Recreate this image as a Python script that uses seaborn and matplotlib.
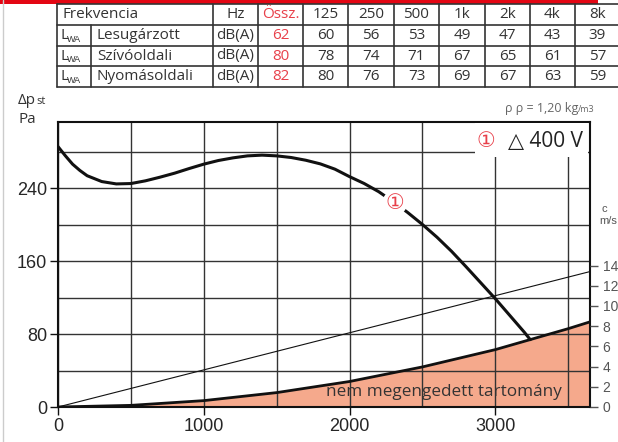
import matplotlib
matplotlib.use("Agg")
import matplotlib.pyplot as plt
import seaborn as sns
from matplotlib.patches import Rectangle

# zajadatok (táblázat)
frekvenciak = ["125", "250", "500", "1k", "2k", "4k", "8k"]
sorok = ["Lesugárzott", "Szívóoldali", "Nyomásoldali"]
ossz = [62, 80, 82]
lesugarzott = [60, 56, 53, 49, 47, 43, 39]
szivooldali = [78, 74, 71, 67, 65, 61, 57]
nyomasoldali = [80, 76, 73, 69, 67, 63, 59]

# ventilátor jelleggörbe (m3/h, Pa)
q_fan = [0, 50, 100, 150, 200, 300, 400, 500, 600, 700, 800, 900, 1000,
         1100, 1200, 1300, 1400, 1500, 1600, 1700, 1800, 1900, 2000, 2100,
         2200, 2300, 2400, 2500, 2600, 2700, 2800, 2900, 3000, 3100, 3200, 3240]
p_fan = [286, 276, 266.7, 259.8, 254, 247.6, 245, 245.4, 248.4, 252.4, 256.8,
         261.9, 266.7, 270.7, 273.6, 275.8, 276.6, 275.8, 274, 271, 267, 261.2,
         253, 245.5, 236.5, 225.5, 213.5, 200.5, 186.5, 171, 154, 136.5, 119,
         100.5, 82, 74]

# nem megengedett tartomány határa (Pa)
q_tilt = [0, 500, 1000, 1500, 2000, 2500, 3000, 3500, 3650]
p_tilt = [0, 1.8, 7, 15.8, 28, 44, 63, 86, 93.5]

# sebesség (m/s)
q_c = [0, 3650]
c_v = [0, 13.4]

piros = "#E8404A"
lazac = "#F5A98C"
W, H = 618, 442

sns.set_theme(style="white")
plt.rcParams["font.family"] = ["Liberation Sans", "DejaVu Sans"]


def pos(x0, y0, x1, y1):
    return [x0 / W, 1 - y1 / H, (x1 - x0) / W, (y1 - y0) / H]


fig = plt.figure(figsize=(6.18, 4.42), dpi=100)
ax = fig.add_axes(pos(58, 122, 590, 407))

ax.fill_between(q_tilt, p_tilt, 0, color=lazac, lw=0, zorder=0.3)
sns.lineplot(x=q_tilt, y=p_tilt, ax=ax, color="#111", linewidth=2, sort=False)
sns.lineplot(x=q_fan, y=p_fan, ax=ax, color="#111", linewidth=2.2, sort=False)
ax.text(2310, 224, "①", color=piros, fontsize=15, ha="center", va="center",
        family=["DejaVu Sans", "Noto Sans CJK JP"], zorder=5,
        bbox=dict(boxstyle="circle,pad=0.12", fc="white", ec="none"))
ax.text(2650, 16.5, "nem megengedett tartomány", fontsize=12.3, color="#333",
        ha="center", va="center", family=["Open Sans", "DejaVu Sans"], zorder=5)

ax.set_xlim(0, 3650)
ax.set_ylim(0, 313)
ax.set_xticks([0, 1000, 2000, 3000])
ax.set_xticks(range(0, 3501, 500), minor=True)
ax.set_yticks([0, 80, 160, 240])
ax.set_yticks(range(0, 281, 40), minor=True)
ax.grid(which="both", color="#333", lw=1)
ax.tick_params(which="major", bottom=True, left=True, length=6, width=1,
               color="#111", labelsize=13, pad=2)
ax.tick_params(which="minor", length=0)
for s in ax.spines.values():
    s.set_color("#111")
    s.set_linewidth(1.5)

ax2 = ax.twinx()
sns.lineplot(x=q_c, y=c_v, ax=ax2, color="#111", linewidth=0.8)
ax2.set_ylim(0, 313 / 11.1)
ax2.set_yticks(range(0, 15, 2))
ax2.tick_params(right=True, length=6, width=1, color="#555",
                labelcolor="#555", labelsize=10, pad=3)
ax2.grid(False)
for s in ax2.spines.values():
    s.set_visible(False)

# feliratok, táblázat pixel koordinátákban
ov = fig.add_axes([0, 0, 1, 1])
ov.set_xlim(0, W)
ov.set_ylim(H, 0)
ov.axis("off")

ov.add_patch(Rectangle((0, 0), 598, 3.5, color="#E30613", lw=0))
ov.plot([3, 3], [0, H], color="#ccc", lw=1)

ov.add_patch(Rectangle((475, 123), 113, 34, color="white", lw=0))
ov.text(486, 141, "①", color=piros, fontsize=15, ha="center", va="center",
        family=["DejaVu Sans", "Noto Sans CJK JP"])
ov.text(583, 141, "△ 400 V", color="#222", fontsize=15, ha="right", va="center",
        family=["Open Sans", "DejaVu Sans"])
ov.text(578, 112, "ρ ρ = 1,20 kg", color="#666", fontsize=9, ha="right",
        va="baseline", family=["Open Sans", "DejaVu Sans"])
ov.text(578, 112, "/m3", color="#666", fontsize=6.5, ha="left", va="baseline",
        family=["Open Sans", "DejaVu Sans"])
ov.text(18, 104, "Δp", color="#333", fontsize=11, ha="left", va="baseline",
        family=["Open Sans", "DejaVu Sans"])
ov.text(36, 104, "st", color="#333", fontsize=8, ha="left", va="baseline",
        family=["Open Sans", "DejaVu Sans"])
ov.text(18, 123, "Pa", color="#333", fontsize=11, ha="left", va="baseline",
        family=["Open Sans", "DejaVu Sans"])
ov.text(601, 212, "c", color="#555", fontsize=8, ha="left", va="baseline")
ov.text(599, 224, "m/s", color="#555", fontsize=8, ha="left", va="baseline")

# táblázat
sor_y = [4, 25, 45.7, 66.3, 87.3]
oszlop_x = [57, 213, 258, 303, 348, 394, 439, 485, 530, 575, 620]
vonal = dict(color="#333", lw=1.2)
for y in sor_y:
    ov.plot([57, 620], [y, y], **vonal)
for x in oszlop_x:
    ov.plot([x, x], [4, 87.3], **vonal)
ov.plot([91, 91], [25, 87.3], **vonal)

tf = dict(fontsize=11, color="#333", va="center", family=["Open Sans", "DejaVu Sans"])
kozep = [(oszlop_x[i] + oszlop_x[i + 1]) / 2 for i in range(len(oszlop_x) - 1)]
ym = [(sor_y[i] + sor_y[i + 1]) / 2 for i in range(4)]
ov.text(63, ym[0], "Frekvencia", ha="left", **tf)
ov.text(kozep[1], ym[0], "Hz", ha="center", **tf)
ov.text(kozep[2], ym[0], "Össz.", ha="center", **{**tf, "color": piros})
for i, f in enumerate(frekvenciak):
    ov.text(kozep[i + 3], ym[0], f, ha="center", **tf)

for r, (nev, tot, vals) in enumerate(zip(sorok, ossz, [lesugarzott, szivooldali, nyomasoldali])):
    y = ym[r + 1]
    ov.text(60, y, "L", ha="left", **tf)
    ov.text(67, y + 4, "WA", ha="left", fontsize=6.5, color="#333", va="center")
    ov.text(97, y, nev, ha="left", **tf)
    ov.text(kozep[1], y, "dB(A)", ha="center", **tf)
    ov.text(kozep[2], y, str(tot), ha="center", **{**tf, "color": piros})
    for i, v in enumerate(vals):
        ov.text(kozep[i + 3], y, str(v), ha="center", **tf)

plt.savefig("out.png", dpi=100)
